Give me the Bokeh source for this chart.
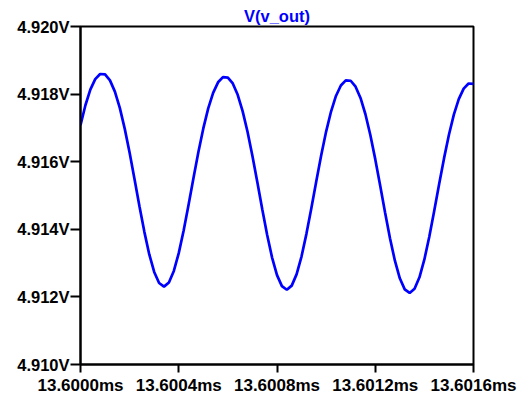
from bokeh.plotting import figure
from bokeh.models import Range1d, FixedTicker, PrintfTickFormatter
from bokeh.embed import file_html
from bokeh.resources import INLINE

# time in ms
t_ms = [13.60000, 13.60002, 13.60004, 13.60006, 13.60008, 13.60010, 13.60012, 13.60014, 13.60016, 13.60018,
        13.60020, 13.60022, 13.60024, 13.60026, 13.60028, 13.60030, 13.60032, 13.60034, 13.60036, 13.60038,
        13.60040, 13.60042, 13.60044, 13.60046, 13.60048, 13.60050, 13.60052, 13.60054, 13.60056, 13.60058,
        13.60060, 13.60062, 13.60064, 13.60066, 13.60068, 13.60070, 13.60072, 13.60074, 13.60076, 13.60078,
        13.60080, 13.60082, 13.60084, 13.60086, 13.60088, 13.60090, 13.60092, 13.60094, 13.60096, 13.60098,
        13.60100, 13.60102, 13.60104, 13.60106, 13.60108, 13.60110, 13.60112, 13.60114, 13.60116, 13.60118,
        13.60120, 13.60122, 13.60124, 13.60126, 13.60128, 13.60130, 13.60132, 13.60134, 13.60136, 13.60138,
        13.60140, 13.60142, 13.60144, 13.60146, 13.60148, 13.60150, 13.60152, 13.60154, 13.60156, 13.60158,
        13.60160]

# V(v_out) in volts
v_out = [4.917078, 4.917671, 4.918132, 4.918443, 4.918594, 4.918582, 4.918407, 4.918073, 4.917591, 4.916978,
         4.916263, 4.915482, 4.914684, 4.913924, 4.913257, 4.912738, 4.912411, 4.912304, 4.912427, 4.912767,
         4.913295, 4.913966, 4.914726, 4.915517, 4.916285, 4.916985, 4.917578, 4.918038, 4.918349, 4.918501,
         4.918489, 4.918314, 4.917979, 4.917497, 4.916885, 4.916169, 4.915389, 4.914591, 4.913830, 4.913163,
         4.912645, 4.912318, 4.912211, 4.912333, 4.912673, 4.913202, 4.913873, 4.914632, 4.915423, 4.916192,
         4.916891, 4.917484, 4.917945, 4.918256, 4.918407, 4.918395, 4.918220, 4.917886, 4.917404, 4.916791,
         4.916076, 4.915295, 4.914497, 4.913737, 4.913070, 4.912551, 4.912224, 4.912117, 4.912240, 4.912580,
         4.913108, 4.913779, 4.914539, 4.915330, 4.916098, 4.916798, 4.917391, 4.917851, 4.918162, 4.918314,
         4.918302]

x_ticks = [13.6000, 13.6004, 13.6008, 13.6012, 13.6016]
y_ticks = [4.910, 4.912, 4.914, 4.916, 4.918, 4.920]

FONT = "Liberation Sans"
FS = "16.5px"

p = figure(width=519, height=397, output_backend="svg", toolbar_location=None,
           x_range=Range1d(13.6, 13.6016), y_range=Range1d(4.910, 4.920),
           min_border_left=80, min_border_right=46, min_border_top=26, min_border_bottom=31,
           title="V(v_out)")

p.title.align = "center"
p.title.text_color = "#0000ff"
p.title.text_font = FONT
p.title.text_font_style = "bold"
p.title.text_font_size = FS
p.title.standoff = 3
p.title.offset = 0

p.line(t_ms, v_out, line_color="#0000ff", line_width=2.7)

p.xgrid.visible = False
p.ygrid.visible = False
p.outline_line_color = "black"
p.outline_line_width = 2
p.outline_line_alpha = 1.0
p.background_fill_color = "white"
p.border_fill_color = "white"

for ax in (p.xaxis[0], p.yaxis[0]):
    ax.axis_line_color = "black"
    ax.axis_line_width = 2
    ax.major_tick_line_color = "black"
    ax.major_tick_line_width = 2
    ax.minor_tick_line_color = None
    ax.major_tick_in = 0
    ax.major_label_text_font = FONT
    ax.major_label_text_font_style = "bold"
    ax.major_label_text_font_size = FS
    ax.major_label_text_color = "black"

p.xaxis[0].ticker = FixedTicker(ticks=x_ticks)
p.xaxis[0].formatter = PrintfTickFormatter(format="%.4fms")
p.xaxis[0].major_label_text_font_size = "17px"
p.xaxis[0].major_tick_out = 8
p.xaxis[0].major_label_standoff = 3

p.yaxis[0].ticker = FixedTicker(ticks=y_ticks)
p.yaxis[0].formatter = PrintfTickFormatter(format="%.3fV")
p.yaxis[0].major_tick_out = 10
p.yaxis[0].major_label_standoff = 1

open("out.html", "w").write(file_html(p, INLINE))
